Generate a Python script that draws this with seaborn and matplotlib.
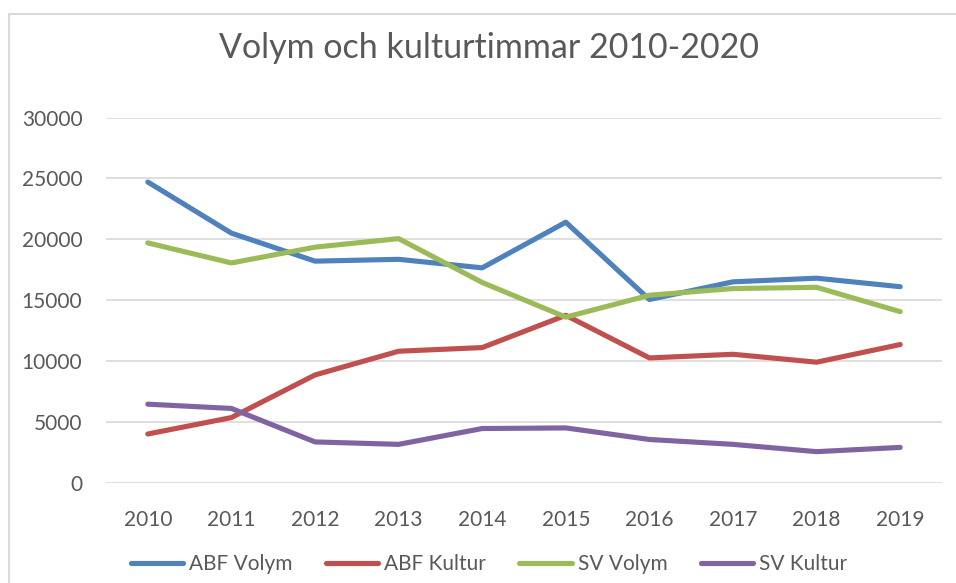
import pandas as pd
import matplotlib.pyplot as plt
import seaborn as sns
from matplotlib.patches import Rectangle

years = ['2010', '2011', '2012', '2013', '2014', '2015', '2016', '2017', '2018', '2019']
abf_volym = [24700, 20500, 18200, 18350, 17650, 21400, 15050, 16500, 16800, 16100]
abf_kultur = [4000, 5350, 8850, 10800, 11100, 13750, 10250, 10550, 9900, 11350]
sv_volym = [19700, 18050, 19350, 20050, 16450, 13600, 15400, 15950, 16050, 14050]
sv_kultur = [6450, 6100, 3350, 3150, 4450, 4500, 3550, 3150, 2550, 2900]

series = ['ABF Volym', 'ABF Kultur', 'SV Volym', 'SV Kultur']
colors = ['#4F81BD', '#C0504D', '#9BBB59', '#8064A2']

frames = []
for name, vals in zip(series, [abf_volym, abf_kultur, sv_volym, sv_kultur]):
    frames.append(pd.DataFrame({'År': years, 'Timmar': vals, 'Serie': name}))
data = pd.concat(frames, ignore_index=True)

sns.set_style('white')
plt.rcParams['font.family'] = ['Lato', 'DejaVu Sans']

fig = plt.figure(figsize=(9.56, 5.83), dpi=100)
ax = fig.add_axes([106 / 956, 1 - 482.7 / 583, 836 / 956, 365.2 / 583])

sns.lineplot(data=data, x='År', y='Timmar', hue='Serie', palette=colors,
             linewidth=3.7, ax=ax, sort=False, solid_capstyle='round')

ax.set_ylim(0, 30000)
ax.set_xlim(-0.5, 9.5)
ax.set_yticks(range(0, 30001, 5000))
ax.grid(axis='y', color='#d9d9d9', linewidth=1.2)
ax.set_axisbelow(True)
for s in ax.spines.values():
    s.set_visible(False)
ax.tick_params(axis='both', length=0, labelsize=15, colors='#595959')
ax.tick_params(axis='y', pad=17)
ax.tick_params(axis='x', pad=20)
ax.set_xlabel('')
ax.set_ylabel('')

fig.text(0.512, 1 - 48 / 583, 'Volym och kulturtimmar 2010-2020', ha='center', va='center',
         fontsize=24.5, color='#595959')

handles, labels = ax.get_legend_handles_labels()
for h in handles:
    h.set_solid_capstyle('round')
ax.legend(handles, labels, loc='center', bbox_to_anchor=(489 / 956, 1 - 564 / 583),
          bbox_transform=fig.transFigure, ncol=4, frameon=False, fontsize=15,
          handlelength=2.5, handletextpad=0.3, columnspacing=1.6, labelcolor='#595959')

fig.patches.append(Rectangle((9 / 956, -0.1), 1.2, 1 - 14 / 583 + 0.1, transform=fig.transFigure,
                             fill=False, edgecolor='#d9d9d9', linewidth=1.5))

fig.savefig('out.png', dpi=100)
